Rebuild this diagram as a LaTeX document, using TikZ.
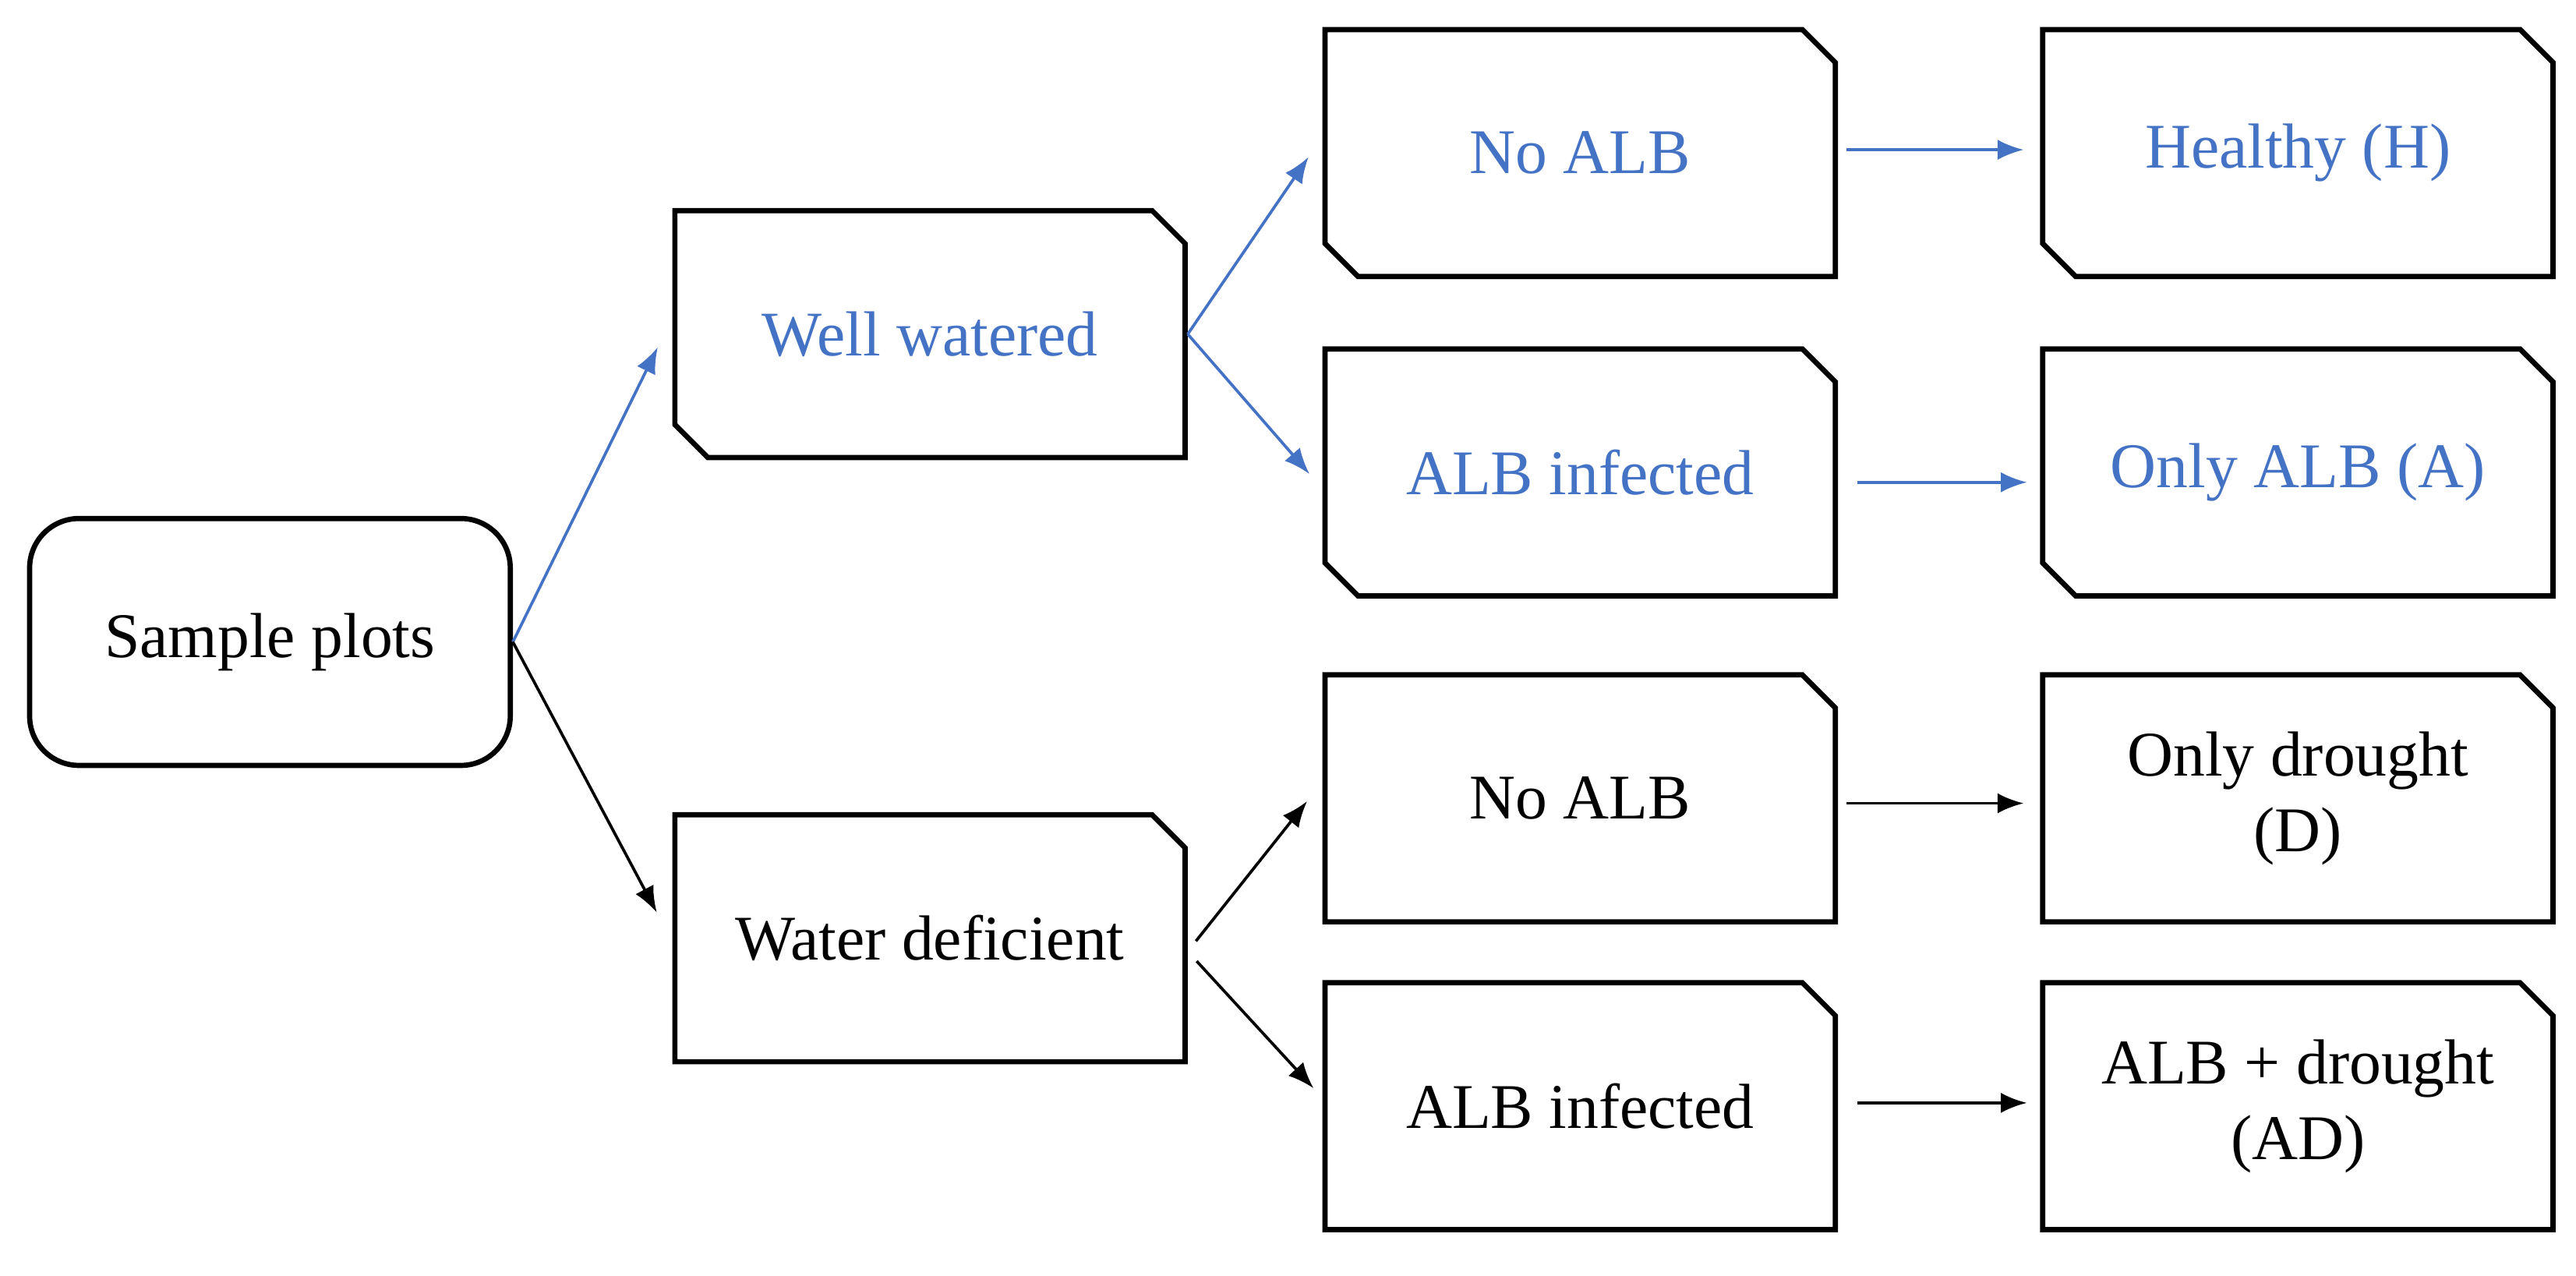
\documentclass[tikz,border=0pt]{standalone}
\usepackage{fontspec}
\setmainfont{Liberation Serif}
\usetikzlibrary{shapes.misc,arrows.meta}
\definecolor{myblue}{RGB}{68,114,196}
\tikzset{
  box/.style={chamfered rectangle, draw, line width=0.9pt, inner sep=0pt,
    minimum width=3.1cm, minimum height=1.5cm, chamfered rectangle xsep=0.1cm,
    chamfered rectangle ysep=0.1cm, font=\fontsize{11}{13}\selectfont, align=center},
  cutone/.style={box, chamfered rectangle corners=north east},
  cuttwo/.style={box, chamfered rectangle corners={north east,south west}},
  arr/.style={-{Latex[length=4.5pt,width=3.5pt]}, line width=0.5pt},
}
\begin{document}
\begin{tikzpicture}
  \useasboundingbox (0,0) rectangle (15.65,-7.75);
  % left
  \node[draw, line width=0.9pt, rounded corners=0.3cm, minimum width=2.92cm, minimum height=1.5cm,
        font=\fontsize{11}{13}\selectfont] (sp) at (1.64,-3.9) {Sample plots};
  % middle
  \node[cuttwo, text=myblue] (ww) at (5.65,-2.03) {Well watered};
  \node[cutone] (wd) at (5.65,-5.70) {Water deficient};
  % treatment
  \node[cuttwo, text=myblue] (na1) at (9.60,-0.93) {No ALB};
  \node[cuttwo, text=myblue] (ai1) at (9.60,-2.87) {ALB infected};
  \node[cutone] (na2) at (9.60,-4.85) {No ALB};
  \node[cutone] (ai2) at (9.60,-6.72) {ALB infected};
  % groups
  \node[cuttwo, text=myblue] (h) at (13.96,-0.93) {Healthy (H)};
  \node[cuttwo, text=myblue] (a) at (13.96,-2.87) {Only ALB (A)};
  \node[cutone] (d) at (13.96,-4.85) {Only drought\\(D)};
  \node[cutone] (ad) at (13.96,-6.72) {ALB + drought\\(AD)};
  % connectors
  \draw[arr, myblue, shorten >=0.2cm] (sp.east) -- ([yshift=0.1cm]ww.west);
  \draw[arr, shorten >=0.2cm] (sp.east) -- ([yshift=-0.02cm]wd.west);
  \draw[arr, myblue, shorten >=0.15cm] (ww.east) -- ([yshift=0.1cm]na1.west);
  \draw[arr, myblue, shorten >=0.12cm] (ww.east) -- ([yshift=-0.1cm]ai1.west);
  \draw[arr, shorten <=0.08cm, shorten >=0.15cm] ([yshift=-0.08cm]wd.east) -- ([yshift=0.1cm]na2.west);
  \draw[arr, shorten <=0.08cm, shorten >=0.08cm] ([yshift=-0.08cm]wd.east) -- ([yshift=0.05cm]ai2.west);
  \draw[arr, myblue, shorten <=0.05cm, shorten >=0.1cm] ([yshift=0.02cm]na1.east) -- ([yshift=0.02cm]h.west);
  \draw[arr, myblue, shorten <=0.12cm, shorten >=0.08cm] ([yshift=-0.06cm]ai1.east) -- ([yshift=-0.06cm]a.west);
  \draw[arr, shorten <=0.05cm, shorten >=0.1cm] ([yshift=-0.03cm]na2.east) -- ([yshift=-0.03cm]d.west);
  \draw[arr, shorten <=0.12cm, shorten >=0.08cm] ([yshift=0.02cm]ai2.east) -- ([yshift=0.02cm]ad.west);
\end{tikzpicture}
\end{document}
